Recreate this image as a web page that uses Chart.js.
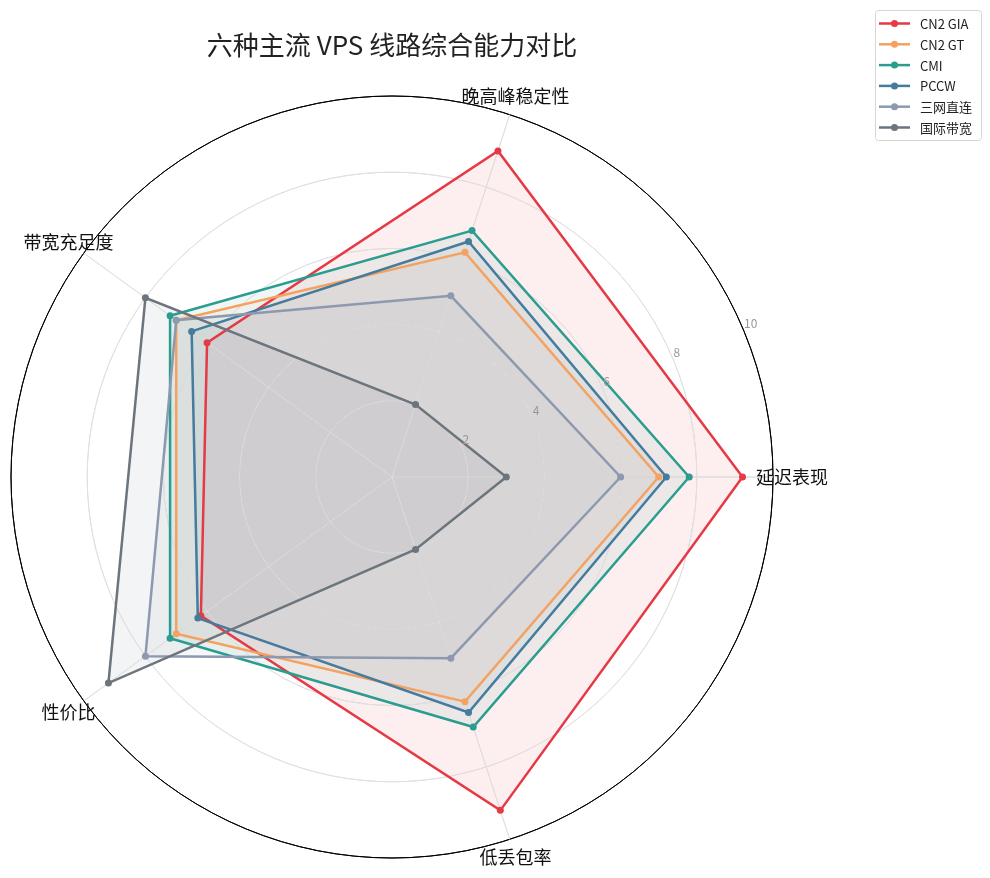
<!DOCTYPE html>
<html lang="zh">
<head>
<meta charset="UTF-8">
<title>六种主流 VPS 线路综合能力对比</title>
<script src="https://cdn.jsdelivr.net/npm/chart.js"></script>
<style>
body { margin: 0; background: #fff; }
canvas { display: block; }
</style>
</head>
<body>
<canvas id="radar" width="990" height="878"></canvas>
<script>
// axes in the order Chart.js lays them out (clockwise, starting on the right)
const categories = ['延迟表现', '低丢包率', '性价比', '带宽充足度', '晚高峰稳定性'];

const lineNames = ['CN2 GIA', 'CN2 GT', 'CMI', 'PCCW', '三网直连', '国际带宽'];
const cn2Gia   = [9.2, 9.2, 6.2, 6.0, 9.0];
const cn2Gt    = [7.0, 6.2, 7.0, 7.0, 6.2];
const cmi      = [7.8, 6.9, 7.2, 7.2, 6.8];
const pccw     = [7.2, 6.5, 6.3, 6.5, 6.5];
const sanwang  = [6.0, 5.0, 8.0, 7.0, 5.0];
const guoji    = [3.0, 2.0, 9.2, 8.0, 2.0];
const scoreTicks = [2, 4, 6, 8, 10];

const colors = ['#e63946', '#f4a261', '#2a9d8f', '#457b9d', '#8d99ae', '#6c757d'];
const series = [cn2Gia, cn2Gt, cmi, pccw, sanwang, guoji];

const FONT = '"Noto Sans CJK SC", "Noto Sans", sans-serif';

function alpha(hex, a) {
    const n = parseInt(hex.slice(1), 16);
    return `rgba(${n >> 16}, ${(n >> 8) & 255}, ${n & 255}, ${a})`;
}

// grid goes over the fills but under the lines, like matplotlib
const gridOverFill = {
    id: 'gridOverFill',
    beforeDatasetsDraw(chart) {
        chart.scales.r.drawGrid();
    }
};

// tick numbers, axis names and the boxed legend
const extras = {
    id: 'extras',
    afterDraw(chart) {
        const ctx = chart.ctx;
        const r = chart.scales.r;
        ctx.save();

        // tick labels along 22.5 degrees
        const a = 22.5 * Math.PI / 180;
        ctx.font = '12px ' + FONT;
        ctx.fillStyle = '#999';
        ctx.textAlign = 'left';
        ctx.textBaseline = 'bottom';
        scoreTicks.forEach(v => {
            const d = r.getDistanceFromCenterForValue(v);
            ctx.fillText(String(v), r.xCenter + d * Math.cos(a), r.yCenter - d * Math.sin(a) - 2);
        });

        // axis names
        ctx.font = '18px ' + FONT;
        ctx.fillStyle = '#111';
        ctx.textAlign = 'center';
        ctx.textBaseline = 'middle';
        const outer = r.getDistanceFromCenterForValue(10) + 19;
        categories.forEach((c, i) => {
            const p = r.getPointPosition(i, outer);
            ctx.fillText(c, p.x, p.y);
        });

        // legend
        const bx = 875.5, by = 10.5, bw = 106, bh = 130;
        ctx.fillStyle = 'rgba(255,255,255,0.8)';
        ctx.strokeStyle = '#d6d6d6';
        ctx.lineWidth = 1;
        ctx.beginPath();
        ctx.roundRect(bx, by, bw, bh, 3);
        ctx.fill();
        ctx.stroke();
        ctx.font = '13px ' + FONT;
        ctx.textAlign = 'left';
        ctx.textBaseline = 'middle';
        chart.data.datasets.forEach((ds, i) => {
            const y = 23.5 + i * 20.8;
            ctx.strokeStyle = ds.borderColor;
            ctx.lineWidth = 2.5;
            ctx.beginPath();
            ctx.moveTo(879, y);
            ctx.lineTo(910, y);
            ctx.stroke();
            ctx.fillStyle = ds.borderColor;
            ctx.beginPath();
            ctx.arc(894.5, y, 3.5, 0, Math.PI * 2);
            ctx.fill();
            ctx.fillStyle = '#222';
            ctx.fillText(ds.label, 920, y + 0.5);
        });
        ctx.restore();
    }
};

new Chart(document.getElementById('radar'), {
    type: 'radar',
    data: {
        labels: categories,
        datasets: series.map((vals, i) => ({
            label: lineNames[i],
            data: vals,
            borderColor: colors[i],
            backgroundColor: alpha(colors[i], 0.08),
            pointBackgroundColor: colors[i],
            pointBorderColor: colors[i],
            pointBorderWidth: 0,
            pointRadius: 3.5,
            borderWidth: 2.5,
            fill: true,
            tension: 0,
            order: series.length - i
        }))
    },
    options: {
        responsive: false,
        animation: false,
        layout: { padding: { left: 10, right: 216, top: 0, bottom: 19 } },
        plugins: {
            legend: { display: false },
            tooltip: { enabled: false },
            filler: { drawTime: 'beforeDatasetsDraw' },
            title: {
                display: true,
                text: '六种主流 VPS 线路综合能力对比',
                color: '#222',
                font: { family: FONT, size: 26, weight: 'normal' },
                padding: { top: 30, bottom: 34 }
            }
        },
        scales: {
            r: {
                min: 0,
                max: 10,
                startAngle: 90,
                ticks: { display: false, stepSize: 2 },
                pointLabels: { display: false },
                angleLines: { color: '#e0e0e0', lineWidth: 1 },
                grid: {
                    circular: true,
                    color: c => c.tick && c.tick.value === 10 ? '#000' : '#e0e0e0',
                    lineWidth: 1
                }
            }
        }
    },
    plugins: [gridOverFill, extras]
});
</script>
</body>
</html>
